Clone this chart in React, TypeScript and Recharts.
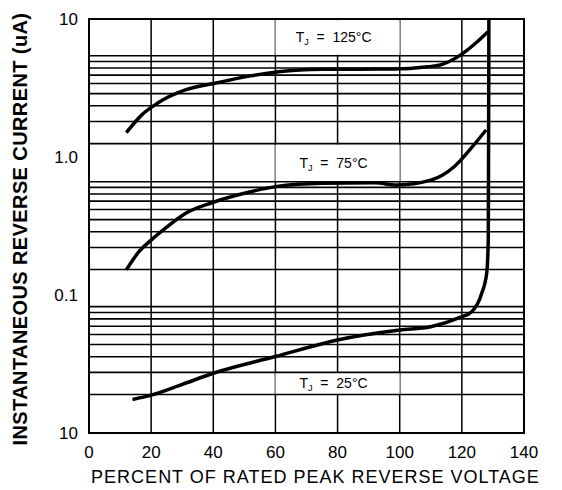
import {
  LineChart,
  Line,
  XAxis,
  YAxis,
  CartesianGrid,
  ReferenceLine,
  ReferenceArea,
} from 'recharts'

const xTicks = [0, 20, 40, 60, 80, 100, 120, 140]
const yTicks = [0.01, 0.1, 1, 10]
const yTickLabels = ['10', '0.1', '1.0', '10']

// horizontal rules as printed on the sheet, read against the tick labels
const gridUpper = [5.42, 4.92, 4.42, 3.92, 3.41, 2.88, 2.35, 1.81, 1.25]
const gridMiddle = [0.662, 0.602, 0.54, 0.479, 0.416, 0.352, 0.287, 0.221, 0.153]
const gridLower = [0.0823, 0.0747, 0.0671, 0.0594, 0.0517, 0.0438, 0.0357, 0.0275, 0.019]

// Tj = 125°C
const pct125 = [12, 17, 22, 31, 40.5, 52, 61, 75, 98, 109, 113, 119.4, 124.4, 128.4]
const cur125 = [1.5, 2.02, 2.45, 3.06, 3.42, 3.87, 4.15, 4.32, 4.34, 4.51, 4.64, 5.45, 6.67, 8.09]

// Tj = 75°C
const pct75 = [12, 16, 20, 25, 31, 40, 52, 60, 75, 92, 99, 110, 117.5, 123, 127.8]
const cur75 = [0.152, 0.205, 0.25, 0.31, 0.39, 0.47, 0.56, 0.61, 0.645, 0.65, 0.627, 0.68, 0.85, 1.16, 1.57]

// Tj = 25°C
const pct25 = [14, 20, 30, 40, 60, 80, 100, 110, 119.4, 123.2, 126.4, 128, 128.5, 128.6, 128.7]
const cur25 = [0.0175, 0.0188, 0.0225, 0.0271, 0.0358, 0.0472, 0.0557, 0.0589, 0.0688, 0.0757, 0.103, 0.144, 0.25, 1.2, 10]

const toPoints = (xs: number[], ys: number[]) => xs.map((x, i) => ({ x, y: ys[i] }))

const font = '"Liberation Sans", Arial, Helvetica, sans-serif'
const ink = '#000'
const tick = { fontSize: 17, fill: ink, fontFamily: font }

function TjLabel({ viewBox, temp }: any) {
  const { x, y, width, height } = viewBox
  return (
    <text
      x={x + width / 2 - 4}
      y={y + height / 2}
      dy="0.35em"
      textAnchor="middle"
      fontFamily={font}
      fontSize={14}
      fill={ink}
      style={{ whiteSpace: 'pre' }}
    >
      T<tspan fontSize={9} dy={3}>J</tspan>
      <tspan dy={-3}>{`  =  ${temp}°C`}</tspan>
    </text>
  )
}

function YTitle({ viewBox }: any) {
  const cx = 20
  const cy = viewBox ? viewBox.y + viewBox.height / 2 + 3 : 229
  return (
    <text
      x={cx}
      y={cy}
      dy="0.35em"
      transform={`rotate(-90, ${cx}, ${cy})`}
      textAnchor="middle"
      fontFamily={font}
      fontWeight="bold"
      fontSize={20}
      letterSpacing={0.4}
      fill={ink}
    >
      INSTANTANEOUS REVERSE CURRENT (uA)
    </text>
  )
}

function XTitle({ viewBox }: any) {
  const cx = viewBox ? viewBox.x + viewBox.width / 2 + 9 : 316
  return (
    <text
      x={cx}
      y={483}
      textAnchor="middle"
      fontFamily={font}
      fontSize={18}
      letterSpacing={1}
      fill={ink}
    >
      PERCENT OF RATED PEAK REVERSE VOLTAGE
    </text>
  )
}

export default function App() {
  const rules = [...gridUpper, ...gridMiddle, ...gridLower]
  return (
    <div style={{ position: 'absolute', left: 0, top: 0, background: '#fff' }}>
      <LineChart width={562} height={490} margin={{ top: 19, right: 38, bottom: 0, left: 0 }}>
        <CartesianGrid vertical horizontal={false} stroke={ink} strokeWidth={1.5} />
        <XAxis
          type="number"
          dataKey="x"
          domain={[0, 140]}
          ticks={xTicks}
          tick={tick}
          tickLine={false}
          axisLine={false}
          tickMargin={7}
          height={57}
          allowDataOverflow
          label={<XTitle />}
        />
        <YAxis
          type="number"
          dataKey="y"
          scale="log"
          domain={[0.01, 10]}
          ticks={yTicks}
          tickFormatter={(v: number) => yTickLabels[yTicks.indexOf(v)] ?? ''}
          tick={tick}
          tickLine={false}
          axisLine={false}
          tickMargin={5}
          width={89}
          allowDataOverflow
          label={<YTitle />}
        />
        <ReferenceArea x1={60} x2={100} y1={9.8} y2={5.5} fill="#fff" fillOpacity={1} stroke="none" label={<TjLabel temp="125" />} />
        <ReferenceArea x1={60} x2={100} y1={1.23} y2={0.67} fill="#fff" fillOpacity={1} stroke="none" label={<TjLabel temp="75" />} />
        <ReferenceArea x1={60} x2={100} y1={0.0272} y2={0.0192} fill="#fff" fillOpacity={1} stroke="none" label={<TjLabel temp="25" />} />
        {rules.map((v) => (
          <ReferenceLine key={v} y={v} stroke={ink} strokeWidth={1.6} />
        ))}
        <ReferenceArea x1={0} x2={140} y1={0.01} y2={10} fill="none" stroke={ink} strokeWidth={2} />
        <Line data={toPoints(pct125, cur125)} dataKey="y" type="monotone" stroke={ink} strokeWidth={3.5} dot={false} isAnimationActive={false} />
        <Line data={toPoints(pct75, cur75)} dataKey="y" type="monotone" stroke={ink} strokeWidth={3.5} dot={false} isAnimationActive={false} />
        <Line data={toPoints(pct25, cur25)} dataKey="y" type="monotone" stroke={ink} strokeWidth={3.5} dot={false} isAnimationActive={false} />
      </LineChart>
    </div>
  )
}
